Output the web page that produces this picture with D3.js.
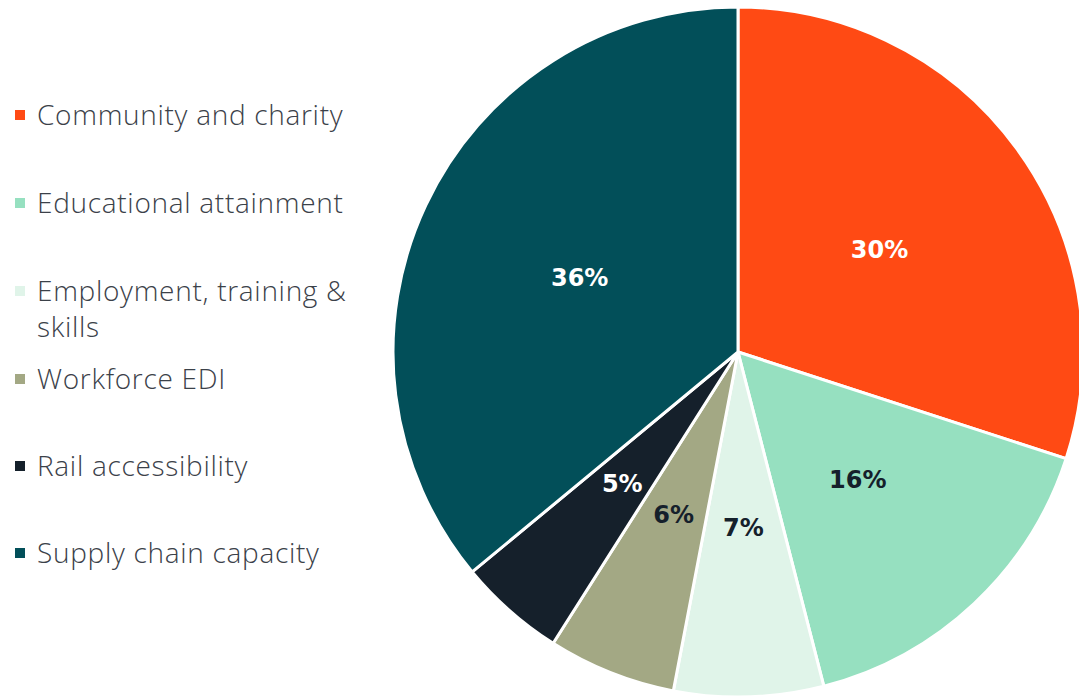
<!DOCTYPE html>
<html>
<head>
<meta charset="utf-8">
<script src="https://cdn.jsdelivr.net/npm/d3@7"></script>
<style>
  body { margin: 0; background: #fff; }
  svg { display: block; font-family: "Open Sans", Lato, sans-serif; }
</style>
</head>
<body>
<svg id="chart" width="1079" height="699"></svg>
<script>
const categories = ['Community and charity', 'Educational attainment', 'Employment, training & skills',
    'Workforce EDI', 'Rail accessibility', 'Supply chain capacity'];
const legendLines = [['Community and charity'], ['Educational attainment'], ['Employment, training &', 'skills'],
    ['Workforce EDI'], ['Rail accessibility'], ['Supply chain capacity']];
const values = [30, 16, 7, 6, 5, 36];
const colors = ['#ff4a14', '#96e0c0', '#e0f4e9', '#a3a884', '#15202b', '#024f59'];
const labelColors = ['#fff', '#15202b', '#15202b', '#15202b', '#fff', '#fff'];

const svg = d3.select('#chart'),
    cx = 738,
    cy = 352,
    radius = 345,
    labelRadius = 175;

const data = categories.map((c, i) => ({ name: c, value: values[i], i }));

const pie = d3.pie().sort(null).value(d => d.value),
    arc = d3.arc().innerRadius(0).outerRadius(radius),
    labelArc = d3.arc().innerRadius(labelRadius).outerRadius(labelRadius),
    color = d3.scaleOrdinal().domain(categories).range(colors);

const g = svg.append('g').attr('transform', `translate(${cx},${cy})`);
const arcs = pie(data);

g.selectAll('path')
    .data(arcs)
    .join('path')
    .attr('d', arc)
    .attr('fill', d => color(d.data.name))
    .attr('stroke', '#fff')
    .attr('stroke-width', 3)
    .attr('stroke-linejoin', 'round');

g.selectAll('text')
    .data(arcs)
    .join('text')
    .attr('transform', d => `translate(${labelArc.centroid(d)})`)
    .attr('text-anchor', 'middle')
    .attr('dy', '0.36em')
    .attr('fill', d => labelColors[d.data.i])
    .attr('font-family', '"DejaVu Sans", sans-serif')
    .attr('font-size', 24)
    .attr('font-weight', 700)
    .text(d => d.data.value + '%');

// legend
const legendY = [115, 203, 291, 379, 466, 553];
const legend = svg.append('g').selectAll('g')
    .data(categories)
    .join('g')
    .attr('transform', (d, i) => `translate(0,${legendY[i]})`);

legend.append('rect')
    .attr('x', 15)
    .attr('y', -5)
    .attr('width', 10)
    .attr('height', 10)
    .attr('fill', d => color(d));

legend.append('text')
    .attr('x', 37)
    .attr('fill', '#3b4149')
    .attr('font-size', 28)
    .attr('font-weight', 300)
    .attr('letter-spacing', 0.7)
    .selectAll('tspan')
    .data((d, i) => legendLines[i])
    .join('tspan')
    .attr('x', 37)
    .attr('y', (d, j) => j * 36)
    .attr('dy', '0.35em')
    .text(d => d);
</script>
</body>
</html>
